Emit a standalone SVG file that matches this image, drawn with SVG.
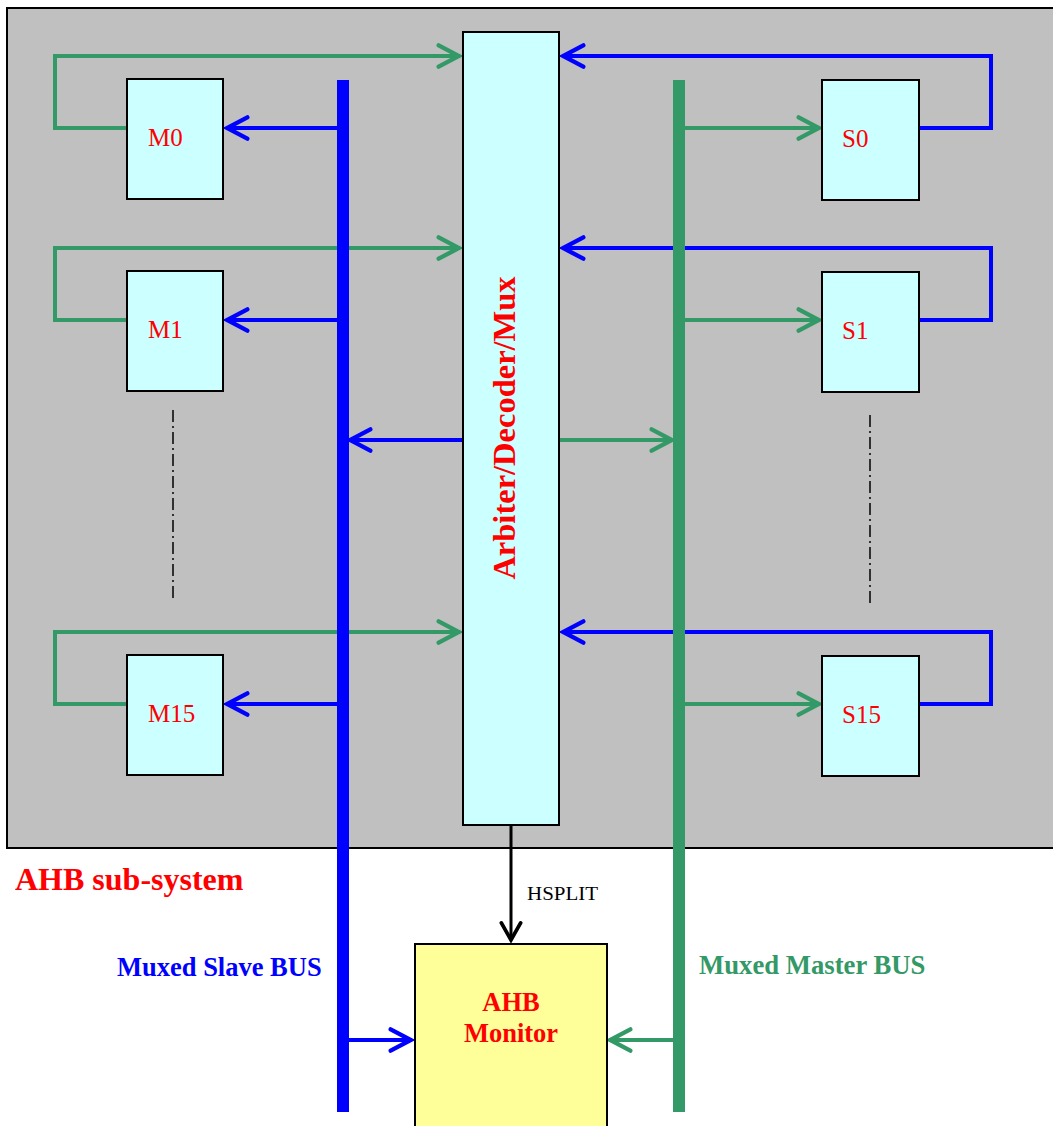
<svg xmlns="http://www.w3.org/2000/svg" width="1053" height="1126" viewBox="0 0 1053 1126">
<style>
.box{fill:#CCFFFF;stroke:#000;stroke-width:2}
.lbl{font-family:"Liberation Serif",serif;font-size:25px;fill:#FF0000}
.g{fill:none;stroke:#339966;stroke-width:4}
.b{fill:none;stroke:#0000FF;stroke-width:4}
.dd{stroke:#000;stroke-width:1.5;stroke-dasharray:12 4 2 4}
.bold{font-family:"Liberation Serif",serif;font-weight:bold}
</style>
<defs>
<marker id="ag" markerUnits="userSpaceOnUse" markerWidth="30" markerHeight="30" viewBox="-24 -14 28 28" refX="0" refY="0" orient="auto"><path d="M-19,-10 L0,0 L-19,10" fill="none" stroke="#339966" stroke-width="4" stroke-linecap="round" stroke-linejoin="miter"/></marker>
<marker id="ab" markerUnits="userSpaceOnUse" markerWidth="30" markerHeight="30" viewBox="-24 -14 28 28" refX="0" refY="0" orient="auto"><path d="M-19,-10 L0,0 L-19,10" fill="none" stroke="#0000FF" stroke-width="4" stroke-linecap="round"/></marker>
<marker id="ak" markerUnits="userSpaceOnUse" markerWidth="30" markerHeight="30" viewBox="-24 -14 28 28" refX="0" refY="0" orient="auto"><path d="M-16,-9 L0,0 L-16,9" fill="none" stroke="#000" stroke-width="3.5" stroke-linecap="round"/></marker>
</defs>
<rect x="0" y="0" width="1053" height="1126" fill="#FFFFFF"/>
<g id="subsystem">
<rect x="7" y="8" width="1060" height="840" fill="#C0C0C0" stroke="#000" stroke-width="2"/>
<text x="15" y="890" class="bold" font-size="32" fill="#FF0000">AHB sub-system</text>
</g>
<g id="connectors">
<path class="g" d="M127,128 H55 V56 H459" marker-end="url(#ag)"/>
<path class="g" d="M127,320 H55 V248 H459" marker-end="url(#ag)"/>
<path class="g" d="M127,704 H55 V632 H459" marker-end="url(#ag)"/>
<path class="b" d="M919,128 H991 V56 H563" marker-end="url(#ab)"/>
<path class="b" d="M919,320 H991 V248 H563" marker-end="url(#ab)"/>
<path class="b" d="M919,704 H991 V632 H563" marker-end="url(#ab)"/>
<path class="b" d="M338,128 H227" marker-end="url(#ab)"/>
<path class="b" d="M338,320 H227" marker-end="url(#ab)"/>
<path class="b" d="M338,704 H227" marker-end="url(#ab)"/>
<path class="g" d="M684,128 H819" marker-end="url(#ag)"/>
<path class="g" d="M684,320 H819" marker-end="url(#ag)"/>
<path class="g" d="M684,704 H819" marker-end="url(#ag)"/>
<path class="b" d="M463,440 H350" marker-end="url(#ab)"/>
<path class="g" d="M559,440 H672" marker-end="url(#ag)"/>
<rect x="337" y="80" width="12" height="1032" fill="#0000FF"/>
<rect x="673" y="80" width="12" height="1032" fill="#339966"/>
<path class="b" d="M349,1040 H411" marker-end="url(#ab)"/>
<path class="g" d="M673,1040 H610" marker-end="url(#ag)"/>
<path d="M511,825 V940" stroke="#000" stroke-width="3" fill="none" marker-end="url(#ak)"/>
<text x="527" y="900" font-family="Liberation Serif, serif" font-size="19" textLength="71" lengthAdjust="spacingAndGlyphs" fill="#000">HSPLIT</text>
<line class="dd" x1="173" y1="410" x2="173" y2="602"/>
<line class="dd" x1="870" y1="415" x2="870" y2="606"/>
<text x="117" y="976" class="bold" font-size="26.5" fill="#0000FF">Muxed Slave BUS</text>
<text x="699" y="974" class="bold" font-size="26.7" fill="#339966">Muxed Master BUS</text>
</g>
<g id="M0"><rect class="box" x="127" y="79" width="96" height="120"/><text class="lbl" x="148" y="146">M0</text></g>
<g id="M1"><rect class="box" x="127" y="271" width="96" height="120"/><text class="lbl" x="148" y="338">M1</text></g>
<g id="M15"><rect class="box" x="127" y="655" width="96" height="120"/><text class="lbl" x="148" y="722">M15</text></g>
<g id="S0"><rect class="box" x="822" y="80" width="97" height="120"/><text class="lbl" x="842" y="147">S0</text></g>
<g id="S1"><rect class="box" x="822" y="272" width="97" height="120"/><text class="lbl" x="842" y="339">S1</text></g>
<g id="S15"><rect class="box" x="822" y="656" width="97" height="120"/><text class="lbl" x="842" y="723">S15</text></g>
<g id="arbiter"><rect class="box" x="463" y="32" width="96" height="793"/>
<text class="bold" font-size="32.5" fill="#FF0000" text-anchor="middle" transform="translate(515,428) rotate(-90)">Arbiter/Decoder/Mux</text></g>
<g id="monitor"><rect x="415" y="944" width="192" height="200" fill="#FFFF99" stroke="#000" stroke-width="2"/>
<text class="bold" font-size="26.5" fill="#FF0000" text-anchor="middle" x="511" y="1011">AHB</text>
<text class="bold" font-size="26.5" fill="#FF0000" text-anchor="middle" x="511" y="1042">Monitor</text></g>
</svg>
